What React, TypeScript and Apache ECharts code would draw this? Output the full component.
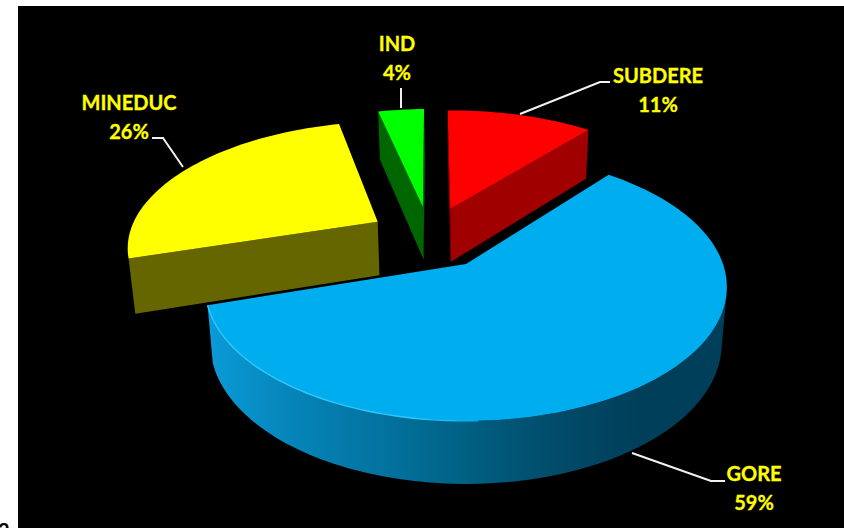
import React, { useEffect, useRef } from "react";
import * as echarts from "echarts";

// ---- data ----
const categories = ["GORE", "MINEDUC", "IND", "SUBDERE"];
const shares = [59.3, 26, 3.5, 11.2];
const firstSliceAngle = 39; // degrees clockwise from the far side of the pie

// ---- style and layout, per category ----
const topColors = ["#00AEEF", "#FFFF00", "#00FF00", "#FF0000"];
const sideColors = ["#0A7FAE", "#666600", "#006600", "#A00000"];
const explodeX = [0, -0.364, -0.1816, -0.066];
const explodeZ = [0, -0.345, -0.474, -0.456];
const radiusScale = [1, 1.005, 1.025, 1.025];
const labelX = [754, 129, 397, 658];
const labelY = [487.5, 116.5, 57.5, 89.5];
const leaderLines: number[][][] = [
  [[632, 453], [711, 481], [725, 481]],
  [[152, 138], [163, 138], [183, 167]],
  [[401, 88], [401, 108]],
  [[520, 114], [600, 82], [610, 82]],
];
const drawOrder = [2, 3, 1, 0];

// projection of the pie plane
const CX = 466, CY = 264, RX = 257, RY = 130, K = 0.1716;
const BOTTOM_SHRINK = 0.98, DEPTH_A = 55.6, DEPTH_P = 0.663;
const DEG = Math.PI / 180;

type P = number[];
function topPoint(x: number, z: number): P {
  const w = 1 - K * z;
  return [CX + (RX * x) / w, CY + (RY * z) / w];
}
function bottomPoint(x: number, z: number): P {
  const w = 1 - K * z;
  const t = topPoint(x, z);
  return [CX + (t[0] - CX) * BOTTOM_SHRINK, t[1] + DEPTH_A / Math.pow(w, DEPTH_P)];
}
function area(pts: P[]) {
  let s = 0;
  for (let i = 0; i < pts.length; i++) {
    const a = pts[i], b = pts[(i + 1) % pts.length];
    s += a[0] * b[1] - b[0] * a[1];
  }
  return s;
}
const sum = shares.reduce((a, b) => a + b, 0);
function sliceStart(i: number) {
  let acc = 0;
  for (let j = 0; j < i; j++) acc += shares[j];
  return firstSliceAngle + (acc / sum) * 360;
}

const rimGradient = {
  type: "linear", x: 212, y: 0, x2: 640, y2: 0, global: true,
  colorStops: [
    { offset: 0, color: "#0A9AD6" },
    { offset: 0.2, color: "#0583B6" },
    { offset: 0.44, color: "#026F9A" },
    { offset: 0.6, color: "#015F82" },
    { offset: 0.82, color: "#014A68" },
    { offset: 1, color: "#003F5A" },
  ],
};
const highlightGradient = {
  type: "linear", x: 208, y: 0, x2: 480, y2: 0, global: true,
  colorStops: [
    { offset: 0, color: "#30C8FF" },
    { offset: 0.75, color: "#30C8FF" },
    { offset: 1, color: "#00AEEF" },
  ],
};

function renderSlice(_params: any, api: any) {
  const i = api.value(0);
  const share = api.value(1);
  const a0 = sliceStart(i);
  const a1 = a0 + (share / sum) * 360;
  const ex = explodeX[i], ez = explodeZ[i], rs = radiusScale[i];
  const n = Math.max(8, Math.ceil((a1 - a0) / 1.5));
  const rim: { x: number; z: number }[] = [];
  for (let k = 0; k <= n; k++) {
    const a = (a0 + ((a1 - a0) * k) / n) * DEG;
    rim.push({ x: ex + rs * Math.sin(a), z: ez - rs * Math.cos(a) });
  }
  const apexT = topPoint(ex, ez), apexB = bottomPoint(ex, ez);
  const children: any[] = [];
  const sideFill = i === 0 ? rimGradient : sideColors[i];

  // the two cut faces, drawn only when they face the viewer
  const sT = topPoint(rim[0].x, rim[0].z), sB = bottomPoint(rim[0].x, rim[0].z);
  const last = rim[rim.length - 1];
  const eT = topPoint(last.x, last.z), eB = bottomPoint(last.x, last.z);
  for (const q of [[apexT, sT, sB, apexB], [eT, apexT, apexB, eB]]) {
    if (area(q) < 0) {
      children.push({ type: "polygon", shape: { points: q }, style: { fill: sideColors[i] } });
    }
  }
  // outer wall, the part of the arc that faces the viewer
  const upper: P[] = [], lower: P[] = [];
  for (let k = 0; k < n; k++) {
    const A = topPoint(rim[k].x, rim[k].z), B = topPoint(rim[k + 1].x, rim[k + 1].z);
    const A2 = bottomPoint(rim[k].x, rim[k].z), B2 = bottomPoint(rim[k + 1].x, rim[k + 1].z);
    if (area([A, B, B2, A2]) < 0) {
      if (!upper.length) { upper.push(A); lower.push(A2); }
      upper.push(B); lower.push(B2);
    }
  }
  if (upper.length > 1) {
    children.push({
      type: "polygon",
      shape: { points: upper.concat(lower.slice().reverse()) },
      style: { fill: sideFill },
    });
  }
  // top face
  const topPts = [apexT].concat(rim.map((r) => topPoint(r.x, r.z)));
  children.push({ type: "polygon", shape: { points: topPts }, style: { fill: topColors[i] } });
  if (i === 0) {
    const edge = rim.map((r) => topPoint(r.x, r.z)).filter((p) => p[0] < 480 && p[1] > 280);
    children.push({
      type: "polyline",
      shape: { points: edge },
      style: { stroke: highlightGradient, lineWidth: 1.4, fill: "none" },
    });
  }
  // leader and label
  children.push({
    type: "polyline",
    shape: { points: leaderLines[i] },
    style: { stroke: "#F2F2F2", lineWidth: 2, fill: "none" },
  });
  children.push({
    type: "text",
    style: {
      x: labelX[i],
      y: labelY[i],
      text: categories[i] + "\n" + Math.round((share / sum) * 100) + "%",
      font: "bold 20px Lato",
      lineHeight: 29,
      fill: "#FFFF00",
      stroke: "#FFFF00",
      lineWidth: 0.3,
      align: "center",
      verticalAlign: "middle",
    },
  });
  return { type: "group", children };
}

export default function App() {
  const ref = useRef<HTMLDivElement>(null);
  useEffect(() => {
    if (!ref.current) return;
    const chart = echarts.init(ref.current, undefined, { renderer: "svg" });
    chart.setOption({
      animation: false,
      backgroundColor: "#FFFFFF",
      graphic: [
        { type: "rect", z: -1, silent: true, shape: { x: 18, y: 6, width: 826, height: 522 }, style: { fill: "#000000" } },
        { type: "text", z: -1, silent: true, x: -2, y: 520, style: { text: "2", font: "bold 20px Lato", fill: "#000000" } },
      ],
      series: [
        {
          type: "custom",
          coordinateSystem: "none",
          renderItem: renderSlice,
          data: drawOrder.map((i) => [i, shares[i]]),
        },
      ],
    });
    return () => chart.dispose();
  }, []);
  return <div ref={ref} style={{ position: "fixed", left: 0, top: 0, width: 844, height: 528 }} />;
}
